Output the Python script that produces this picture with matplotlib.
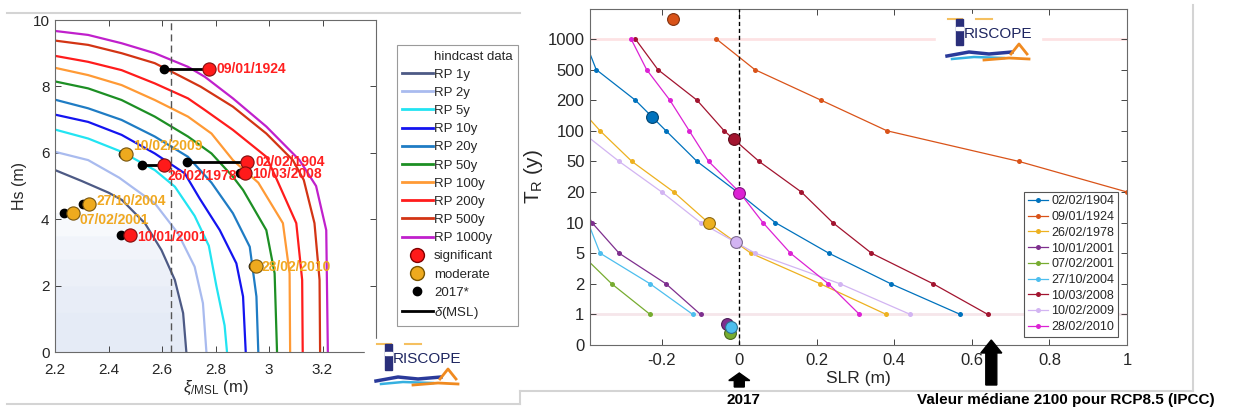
import numpy as np
import matplotlib
matplotlib.use('Agg')
import matplotlib.pyplot as plt
import matplotlib.transforms as mtransforms
from matplotlib.lines import Line2D
from matplotlib.patches import FancyArrow, Rectangle

plt.rcParams['font.family'] = ['Liberation Sans', 'DejaVu Sans']
plt.rcParams['mathtext.fontset'] = 'custom'
plt.rcParams['mathtext.rm'] = 'Liberation Sans'
plt.rcParams['mathtext.it'] = 'Liberation Sans:italic'

W, H = 1234, 412

# ---------------- left panel data: return period contours (xi/MSL, Hs)
rp_labels = ['RP 1y', 'RP 2y', 'RP 5y', 'RP 10y', 'RP 20y', 'RP 50y',
             'RP 100y', 'RP 200y', 'RP 500y', 'RP 1000y']
rp_colors = ['#4d5a85', '#a9bbef', '#22e4f2', '#1414f0', '#1f7cc4',
             '#1d8f24', '#ff9a35', '#ff1c1c', '#d33414', '#c020cc']

rp1_x = [2.2, 2.30, 2.40, 2.45, 2.536, 2.598, 2.648, 2.679, 2.691]
rp1_y = [5.48, 5.15, 4.80, 4.58, 3.88, 3.07, 2.17, 1.17, 0]
rp2_x = [2.2, 2.324, 2.44, 2.50, 2.573, 2.66, 2.722, 2.753, 2.766]
rp2_y = [6.03, 5.78, 5.25, 4.90, 4.48, 3.57, 2.57, 1.47, 0]
rp5_x = [2.2, 2.324, 2.449, 2.573, 2.648, 2.722, 2.775, 2.803, 2.834, 2.843]
rp5_y = [6.70, 6.43, 6.03, 5.48, 4.98, 4.10, 3.20, 2.00, 0.80, 0]
rp10_x = [2.2, 2.324, 2.449, 2.573, 2.685, 2.741, 2.816, 2.878, 2.903, 2.913]
rp10_y = [7.15, 6.93, 6.54, 5.98, 5.38, 4.62, 3.67, 2.67, 1.67, 0]
rp20_x = [2.2, 2.324, 2.449, 2.573, 2.697, 2.785, 2.865, 2.928, 2.953, 2.96]
rp20_y = [7.60, 7.34, 6.99, 6.49, 5.88, 5.10, 4.18, 3.17, 1.67, 0]
rp50_x = [2.2, 2.324, 2.449, 2.573, 2.697, 2.785, 2.865, 2.903, 2.99, 3.021, 3.03]
rp50_y = [8.15, 7.94, 7.59, 7.09, 6.49, 5.98, 5.28, 4.88, 3.67, 2.37, 0]
rp100_x = [2.2, 2.324, 2.449, 2.573, 2.697, 2.785, 2.865, 2.96, 3.052, 3.077, 3.079]
rp100_y = [8.56, 8.34, 8.04, 7.59, 7.09, 6.58, 5.78, 5.10, 3.88, 2.37, 0]
rp200_x = [2.2, 2.324, 2.449, 2.573, 2.697, 2.76, 2.865, 2.99, 3.03, 3.102, 3.124, 3.126]
rp200_y = [8.92, 8.74, 8.49, 8.09, 7.64, 7.29, 6.69, 5.88, 5.18, 3.88, 2.17, 0]
rp500_x = [2.2, 2.324, 2.449, 2.573, 2.673, 2.745, 2.865, 2.99, 3.089, 3.13, 3.17, 3.189, 3.191]
rp500_y = [9.38, 9.25, 9.00, 8.70, 8.29, 7.99, 7.39, 6.58, 5.78, 5.18, 3.88, 2.17, 0]
rp1000_x = [2.2, 2.324, 2.449, 2.573, 2.697, 2.76, 2.865, 2.99, 3.114, 3.176, 3.214, 3.22]
rp1000_y = [9.67, 9.55, 9.30, 9.00, 8.59, 8.29, 7.64, 6.79, 5.78, 5.00, 3.67, 0]

rp_x = [rp1_x, rp2_x, rp5_x, rp10_x, rp20_x, rp50_x, rp100_x, rp200_x, rp500_x, rp1000_x]
rp_y = [rp1_y, rp2_y, rp5_y, rp10_y, rp20_y, rp50_y, rp100_y, rp200_y, rp500_y, rp1000_y]

# storm events: 2017 sea level (black) and historical level (coloured)
ev_names = ['09/01/1924', '02/02/1904', '10/03/2008', '26/02/1978', '10/02/2009',
            '27/10/2004', '07/02/2001', '10/01/2001', '28/02/2010']
ev_class = ['significant', 'significant', 'significant', 'significant', 'moderate',
            'moderate', 'moderate', 'significant', 'moderate']
ev_xi_2017 = [2.607, 2.694, 2.893, 2.527, 2.455, 2.306, 2.234, 2.445, 2.940]
ev_xi = [2.776, 2.918, 2.909, 2.607, 2.467, 2.328, 2.268, 2.480, 2.950]
ev_hs = [8.51, 5.73, 5.38, 5.63, 5.95, 4.46, 4.20, 3.52, 2.59]
# label offsets in pixels (dx, dy)
ev_offsets = [(7, 0), (8, 0), (7, -1), (4, -11), (7, 8), (7, 3), (6, -7), (7, -2), (6, -1)]

msl_2017 = 2.635

# ---------------- right panel data: return period vs sea level rise
tr_ticks = [0, 1, 2, 5, 10, 20, 50, 100, 200, 500, 1000]
tr_scale = tr_ticks + [2000]

series_names = ['02/02/1904', '09/01/1924', '26/02/1978', '10/01/2001', '07/02/2001',
                '27/10/2004', '10/03/2008', '10/02/2009', '28/02/2010']
series_colors = ['#0072BD', '#D95319', '#EDB120', '#7E2F8E', '#77AC30',
                 '#4DBEEE', '#A2142F', '#d2b4f2', '#dc22d4']

t_1904 = [1000, 500, 200, 100, 50, 20, 10, 5, 2, 1]
slr_1904 = [-0.40, -0.369, -0.268, -0.189, -0.109, -0.005, 0.093, 0.231, 0.391, 0.570]
t_1924 = [1000, 500, 200, 100, 50, 20]
slr_1924 = [-0.059, 0.040, 0.211, 0.381, 0.721, 1.0]
t_1978 = [200, 100, 50, 20, 10, 5, 2, 1]
slr_1978 = [-0.43, -0.359, -0.277, -0.169, -0.080, 0.030, 0.209, 0.379]
t_2001a = [20, 10, 5, 2, 1]
slr_2001a = [-0.42, -0.380, -0.310, -0.189, -0.100]
t_2001b = [5, 2, 1]
slr_2001b = [-0.41, -0.329, -0.230]
t_2004 = [10, 5, 2, 1]
slr_2004 = [-0.39, -0.359, -0.230, -0.120]
t_2008 = [1000, 500, 200, 100, 50, 20, 10, 5, 2, 1]
slr_2008 = [-0.268, -0.210, -0.109, -0.039, 0.051, 0.160, 0.241, 0.341, 0.500, 0.641]
t_2009 = [100, 50, 20, 10, 5, 2, 1]
slr_2009 = [-0.41, -0.310, -0.200, -0.100, 0.041, 0.26, 0.441]
t_2010 = [1000, 500, 200, 100, 50, 20, 10, 5, 2, 1]
slr_2010 = [-0.279, -0.239, -0.179, -0.129, -0.079, 0.0, 0.061, 0.132, 0.230, 0.310]

series_t = [t_1904, t_1924, t_1978, t_2001a, t_2001b, t_2004, t_2008, t_2009, t_2010]
series_slr = [slr_1904, slr_1924, slr_1978, slr_2001a, slr_2001b, slr_2004, slr_2008, slr_2009, slr_2010]

# present-day (2017) return period of each event
now_slr = [-0.224, -0.170, -0.077, -0.032, -0.025, -0.021, -0.013, -0.009, 0.0]
now_t = [144, 1650, 10, 0.69, 0.40, 0.60, 86, 6.9, 19.6]

slr_2100 = 0.65


def fpx(x, y):
    return (x / W, 1 - y / H)


def darker(c, f=0.6):
    r, g, b = matplotlib.colors.to_rgb(c)
    return (r * f, g * f, b * f)


fig = plt.figure(figsize=(W / 100, H / 100), dpi=100)

# ---------------- left panel
ax1 = fig.add_axes([55 / W, 1 - 352 / H, (376 - 55) / W, (352 - 20) / H])
# pale cloud of hindcast data, fading upwards
for cap in (1.2, 2.0, 2.8, 3.5, 4.2):
    ax1.fill_between(rp1_x, 0, np.minimum(rp1_y, cap), color='#dde6f4', alpha=0.22, lw=0, zorder=0)
for xs, ys, c, lab in zip(rp_x, rp_y, rp_colors, rp_labels):
    ax1.plot(xs, ys, color=c, lw=1.6, label=lab)
ax1.axvline(msl_2017, color='#555555', lw=1, ls=(0, (5, 3)))

for i, name in enumerate(ev_names):
    col = '#ff1a1a' if ev_class[i] == 'significant' else '#eeaa1e'
    txtcol = '#ff2020' if ev_class[i] == 'significant' else '#f0a820'
    ax1.plot([ev_xi_2017[i], ev_xi[i]], [ev_hs[i], ev_hs[i]], color='k', lw=2, zorder=4)
    ax1.plot(ev_xi_2017[i], ev_hs[i], 'o', color='k', ms=6, zorder=5)
    ax1.plot(ev_xi[i], ev_hs[i], 'o', color=col, mec=darker(col, 0.5), mew=0.8, ms=9.5, zorder=6)
    ax1.annotate(name, (ev_xi[i], ev_hs[i]), xytext=ev_offsets[i], textcoords='offset pixels',
                 ha='left', va='center', color=txtcol, fontsize=10, fontweight='bold', zorder=7)

ax1.set_xlim(2.2, 3.4)
ax1.set_ylim(0, 10)
ax1.set_xticks([2.2, 2.4, 2.6, 2.8, 3.0, 3.2])
ax1.set_xticklabels(['2.2', '2.4', '2.6', '2.8', '3', '3.2'])
ax1.set_yticks([0, 2, 4, 6, 8, 10])
ax1.set_xlabel(r'$\xi_{/\mathregular{MSL}}$ (m)', fontsize=12, color='#262626', labelpad=1)
ax1.set_ylabel('Hs (m)', fontsize=11.5, color='#262626', labelpad=4)

handles = [Line2D([], [], ls='none', marker='none')]
labels = ['hindcast data']
for c, lab in zip(rp_colors, rp_labels):
    handles.append(Line2D([], [], color=c, lw=2))
    labels.append(lab)
handles += [Line2D([], [], ls='none', marker='o', color='#ff1a1a', mec='#800000', ms=10),
            Line2D([], [], ls='none', marker='o', color='#eeaa1e', mec='#7a5500', ms=10),
            Line2D([], [], ls='none', marker='o', color='k', ms=6),
            Line2D([], [], color='k', lw=2)]
labels += ['significant', 'moderate', '2017*', r'$\delta$(MSL)']
leg1 = ax1.legend(handles, labels, loc='upper left', bbox_to_anchor=fpx(397, 45),
                  bbox_transform=fig.transFigure, borderaxespad=0, fontsize=9.5,
                  labelspacing=0.45, handlelength=2.3, handletextpad=0.1,
                  borderpad=0.4, fancybox=False, framealpha=1, edgecolor='#9a9a9a')
leg1.get_frame().set_linewidth(0.8)
for t in leg1.get_texts():
    t.set_color('#262626')

# ---------------- right panel
ax2 = fig.add_axes([590 / W, 1 - 345 / H, (1127 - 590) / W, (345 - 9) / H])
idx = np.arange(len(tr_scale))


def tr_fwd(t):
    return np.interp(t, tr_scale, idx)


def tr_inv(p):
    return np.interp(p, idx, tr_scale)


ax2.set_yscale('function', functions=(tr_fwd, tr_inv))
ax2.axhline(1000, color='#fde2e4', lw=2, zorder=0)
ax2.axhline(1, color='#f6e6ea', lw=2, zorder=0)
ax2.axvline(0, color='k', lw=1, ls=(0, (3, 2)), zorder=3)

for ts, xs, c, name in zip(series_t, series_slr, series_colors, series_names):
    ax2.plot(xs, ts, '-o', color=c, lw=0.9, ms=3.6, mew=0, label=name, zorder=2)
for xs, ts, c in zip(now_slr, now_t, series_colors):
    ax2.plot(xs, ts, 'o', color=c, mec=darker(c, 0.6), mew=0.8, ms=8.5, zorder=4)

ax2.set_xlim(-0.385, 1.0)
ax2.set_ylim(0, 1980)
ax2.set_yticks(tr_ticks)
ax2.set_yticklabels([str(t) for t in tr_ticks])
ax2.yaxis.set_minor_locator(matplotlib.ticker.NullLocator())
ax2.set_xticks([-0.2, 0, 0.2, 0.4, 0.6, 0.8, 1.0])
ax2.set_xticklabels(['-0.2', '0', '0.2', '0.4', '0.6', '0.8', '1'])
ax2.set_xlabel('SLR (m)', fontsize=12.5, color='#262626', labelpad=2)
ax2.set_ylabel(r'$\mathregular{T_R}$ (y)', fontsize=15, color='#262626', labelpad=2)

leg2 = ax2.legend(loc='lower right', bbox_to_anchor=fpx(1118, 337),
                  bbox_transform=fig.transFigure, borderaxespad=0, fontsize=9,
                  labelspacing=0.3, handlelength=1.6, handletextpad=0.3,
                  borderpad=0.3, fancybox=False, framealpha=1, edgecolor='#555555')
leg2.get_frame().set_linewidth(0.8)
for t in leg2.get_texts():
    t.set_color('#262626')

for ax, fs, xpad in ((ax1, 11, 8), (ax2, 12, 6)):
    ax.tick_params(direction='in', length=4, width=0.6, top=True, right=True,
                   labelsize=fs, colors='#262626', pad=4)
    ax.tick_params(axis='x', pad=xpad)
    for s in ax.spines.values():
        s.set_color('#6a6a6a')
        s.set_linewidth(0.8)

# ---------------- arrows and captions below the right panel
trans = mtransforms.blended_transform_factory(ax2.transData, fig.transFigure)
fig.add_artist(FancyArrow(0, 1 - 387 / H, 0, 14 / H, width=10 / 387.5, head_width=21 / 387.5,
                          head_length=7.5 / H, length_includes_head=True, color='k',
                          transform=trans, clip_on=False))
fig.add_artist(FancyArrow(slr_2100, 1 - 385 / H, 0, 45 / H, width=11 / 387.5, head_width=21 / 387.5,
                          head_length=13 / H, length_includes_head=True, color='k',
                          transform=trans, clip_on=False))
fig.text(*fpx(743, 400), '2017', ha='center', va='center', fontsize=11, fontweight='bold')
fig.text(*fpx(1066, 400), 'Valeur médiane 2100 pour RCP8.5 (IPCC)', ha='center', va='center',
         fontsize=11, fontweight='bold')

# ---------------- screenshot frames
frame_col = '#d4d4d4'
for xs, ys in (([7, 520], [13, 13]), ([7, 520], [404, 404]), ([520, 520], [391, 404]),
               ([520, 1193], [391, 391]), ([1193, 1193], [5, 391])):
    fig.add_artist(Line2D([x / W for x in xs], [1 - y / H for y in ys], color=frame_col,
                          lw=1.5, transform=fig.transFigure))


# ---------------- RISCOPE logos
def logo(x0, y0):
    # x0, y0: left / vertical centre of the word, in pixels
    fig.add_artist(Rectangle(fpx(x0 - 28, y0 + 30), 105 / W, 50 / H, color='white',
                             transform=fig.transFigure, zorder=8))
    fig.add_artist(Line2D([(x0 - 16) / W, (x0 - 2) / W], [1 - (y0 - 15) / H] * 2, color='#f5c060',
                          lw=1.5, transform=fig.transFigure, zorder=9))
    fig.add_artist(Line2D([(x0 + 12) / W, (x0 + 28) / W], [1 - (y0 - 15) / H] * 2, color='#f5c060',
                          lw=1.5, transform=fig.transFigure, zorder=9))
    fig.add_artist(Rectangle(fpx(x0 - 8, y0 + 11), 7 / W, 26 / H, color='#2a2f7a',
                             transform=fig.transFigure, zorder=9))
    fig.add_artist(Rectangle(fpx(x0 - 8, y0 - 4), 7 / W, 3 / H, color='white',
                             transform=fig.transFigure, zorder=10))
    fig.text(x0 / W, 1 - y0 / H, 'RISCOPE', ha='left', va='center', fontsize=11,
             color='#1d2560', zorder=10)
    fig.add_artist(Line2D([(x0 - 17) / W, (x0 + 5) / W, (x0 + 25) / W, (x0 + 48) / W],
                          [1 - (y0 + 22) / H, 1 - (y0 + 18) / H, 1 - (y0 + 20) / H, 1 - (y0 + 18) / H],
                          color='#2a3a9a', lw=2.5, transform=fig.transFigure, zorder=9))
    fig.add_artist(Line2D([(x0 - 12) / W, (x0 + 10) / W, (x0 + 40) / W],
                          [1 - (y0 + 25) / H, 1 - (y0 + 23) / H, 1 - (y0 + 24) / H],
                          color='#35b0e0', lw=1.8, transform=fig.transFigure, zorder=9))
    fig.add_artist(Line2D([(x0 + 20) / W, (x0 + 45) / W, (x0 + 65) / W],
                          [1 - (y0 + 26) / H, 1 - (y0 + 24) / H, 1 - (y0 + 25) / H],
                          color='#f08a20', lw=2, transform=fig.transFigure, zorder=9))
    fig.add_artist(Line2D([(x0 + 47) / W, (x0 + 55) / W, (x0 + 63) / W],
                          [1 - (y0 + 20) / H, 1 - (y0 + 10) / H, 1 - (y0 + 20) / H],
                          color='#f08a20', lw=2, transform=fig.transFigure, zorder=9))


logo(393, 359)
logo(964, 34)

fig.savefig('out.png', dpi=100)
